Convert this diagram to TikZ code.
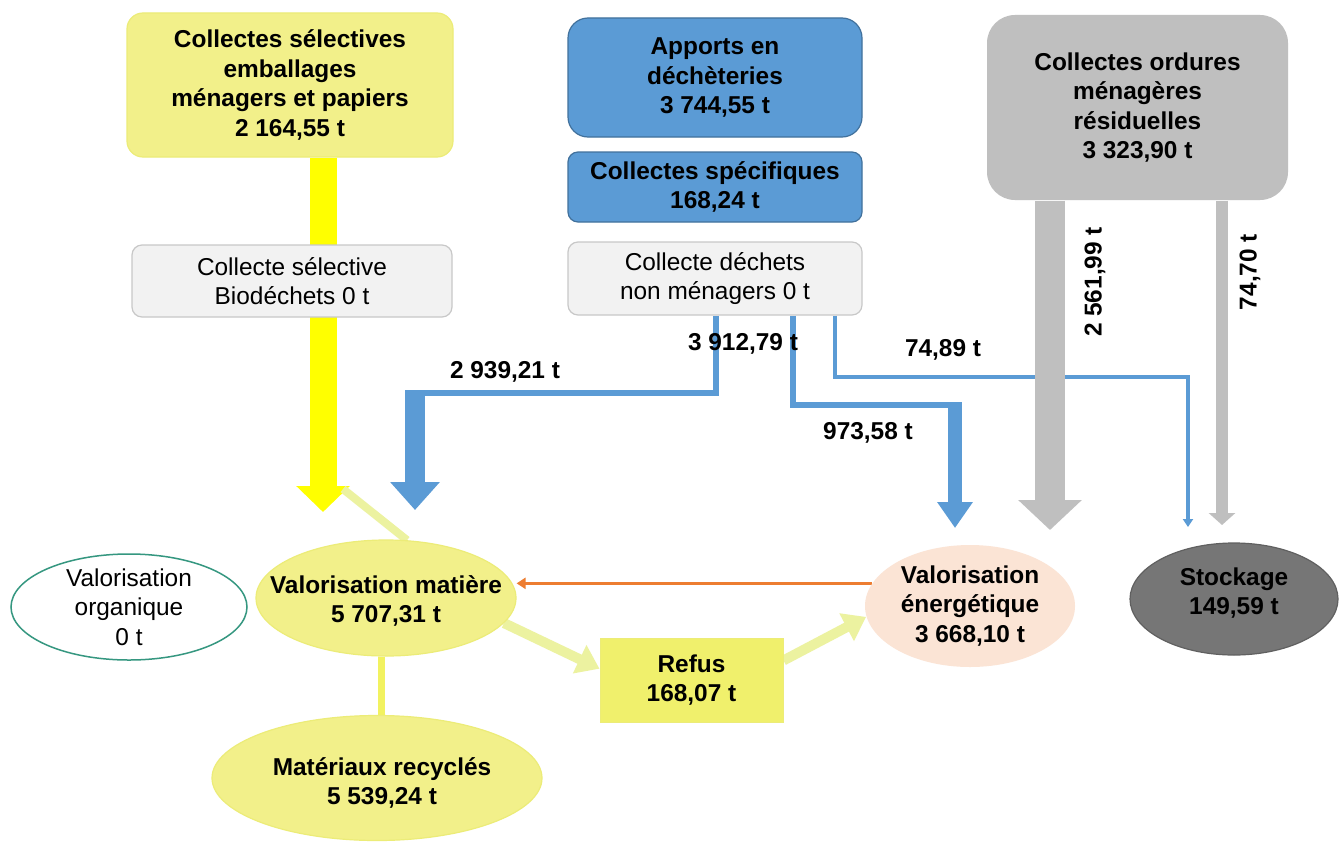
\documentclass[tikz,border=0pt]{standalone}
\usepackage{fontspec}
\setmainfont{Liberation Sans}
\usetikzlibrary{arrows.meta,shapes.geometric}

\definecolor{jaune}{RGB}{242,240,138}
\definecolor{jaunebord}{RGB}{236,236,120}
\definecolor{jaunevif}{RGB}{255,255,0}
\definecolor{jaunetrait}{RGB}{242,242,96}
\definecolor{jaunepale}{RGB}{236,242,160}
\definecolor{jaunerefus}{RGB}{240,240,108}
\definecolor{bleu}{RGB}{91,155,213}
\definecolor{bleubord}{RGB}{65,113,156}
\definecolor{gris}{RGB}{191,191,191}
\definecolor{grisclair}{RGB}{242,242,242}
\definecolor{grisbord}{RGB}{200,200,200}
\definecolor{grisfonce}{RGB}{118,118,118}
\definecolor{grisfoncebord}{RGB}{96,96,96}
\definecolor{peche}{RGB}{251,228,213}
\definecolor{orangefl}{RGB}{237,125,49}
\definecolor{vertbord}{RGB}{53,151,128}

\pgfdeclarelayer{fond}
\pgfsetlayers{fond,main}

\tikzset{
  texte/.style={align=center, inner sep=0pt, font=\fontsize{24.5}{29.5}\selectfont},
  gras/.style={texte, font=\fontsize{24.5}{29.5}\selectfont\bfseries},
  boite/.style={gras, rounded corners=16bp, line width=1.2bp},
  boitegrise/.style={texte, rounded corners=10bp, fill=grisclair, draw=grisbord,
    line width=1.2bp, minimum width=294bp, minimum height=73bp},
  ellip/.style={ellipse, inner sep=0pt, line width=1.2bp},
  fluxbleu/.style={draw=bleu, line join=miter},
}

\begin{document}
\begin{tikzpicture}[x=1bp, y=-1bp]
  \useasboundingbox (0,0) rectangle (1341,841);

  % collectes
  \node[boite, fill=jaune, draw=jaunebord, minimum width=326bp, minimum height=144bp] (selec) at (290,85)
    {Collectes sélectives\\emballages\\ménagers et papiers\\2 164,55 t};
  \node[boite, fill=bleu, draw=bleubord, minimum width=294bp, minimum height=119bp, rounded corners=20bp] (apports) at (715,77.5)
    {Apports en\\déchèteries\\3 744,55 t};
  \node[boite, fill=bleu, draw=bleubord, minimum width=294bp, minimum height=70bp, rounded corners=10bp] (specif) at (715,187)
    {Collectes spécifiques\\168,24 t};
  \node[boitegrise] (dnm) at (715,278.5) {Collecte déchets\\non ménagers 0 t};
  \node[boitegrise, minimum width=320bp, minimum height=72bp] (bio) at (292,281) {Collecte sélective\\Biodéchets 0 t};
  \node[boite, fill=gris, minimum width=301bp, minimum height=185bp, rounded corners=28bp] (omr) at (1137.5,107.5)
    {Collectes ordures\\ménagères\\résiduelles\\3 323,90 t};

  % destinations
  \node[ellip, fill=white, draw=vertbord, line width=1.5bp, minimum width=236bp, minimum height=106bp] (vorg) at (129,607) {};
  \node[texte] (vorgt) at (vorg) {Valorisation\\organique\\0 t};
  \node[ellip, fill=jaune, draw=jaunebord, minimum width=260bp, minimum height=116bp] (vmat) at (386,598) {};
  \node[gras] (vmatt) at (386,601) {Valorisation matière\\5 707,31 t};
  \node[ellip, fill=jaune, draw=jaunebord, minimum width=330bp, minimum height=125bp] (recy) at (377,778) {};
  \node[gras] (recyt) at (382,783) {Matériaux recyclés\\5 539,24 t};
  \node[gras, fill=jaunerefus, draw=jaunebord, line width=1bp, minimum width=183bp, minimum height=84bp] (refus) at (691.5,680)
    {Refus\\168,07 t};
  \node[ellip, fill=peche, minimum width=210bp, minimum height=122bp] (ven) at (970,606) {};
  \node[gras] (vent) at (ven) {Valorisation\\énergétique\\3 668,10 t};
  \node[ellip, fill=grisfonce, draw=grisfoncebord, minimum width=208bp, minimum height=112bp] (stock) at (1234,599) {};
  \node[gras] (stockt) at (1234,593) {Stockage\\149,59 t};

  % tonnages
  \node[gras] (l1) at (505,372) {2 939,21 t};
  \node[gras] (l2) at (743,344) {3 912,79 t};
  \node[gras] (l3) at (868,433) {973,58 t};
  \node[gras] (l4) at (943,350) {74,89 t};
  \node[gras, rotate=90] (l5) at (1095,282) {2 561,99 t};
  \node[gras, rotate=90] (l6) at (1250,272) {74,70 t};

  \coordinate (pj) at (323,512);
  \coordinate (dj) at (343,489);
  \coordinate (lj) at (381,0);
  \coordinate (b1) at (716,393);
  \coordinate (pb1) at (415,510);
  \coordinate (b2) at (793,405);
  \coordinate (pb2) at (955,528);
  \coordinate (b3) at (835,377);
  \coordinate (pb3) at (1188,527);
  \coordinate (pg1) at (1050,530);
  \coordinate (pg2) at (1222,525);

  \begin{pgfonlayer}{fond}
    \fill[white] (0,0) rectangle (1341,841);
    % flux jaunes
    \draw[jaunevif, line width=27bp, -{Triangle[width=52bp,length=26bp]}] (selec.south -| pj) -- (pj);
    \draw[jaunepale, line width=8bp] (dj) -- (vmat.70);
    \draw[jaunetrait, line width=7bp] (vmat.south -| lj) -- (recy.north -| lj);
    \draw[jaunepale, line width=10bp, -{Triangle[width=30bp,length=22bp]}] (vmat.-12) -- (refus.173);
    \draw[jaunepale, line width=10bp, -{Triangle[width=30bp,length=22bp]}] (refus.12) -- (ven.186);
    \draw[orangefl, line width=3bp, -{Triangle[width=11bp,length=9bp]}] (ven.167) -- (ven.167 -| vmat.east);
    % flux bleus
    \draw[fluxbleu, line width=6bp] (dnm.south -| b1) |- (pb1 |- b1);
    \draw[bleu, line width=20bp, -{Triangle[width=48bp,length=28bp]}] ([yshift=3bp]pb1 |- b1) -- (pb1);
    \draw[fluxbleu, line width=6bp] (dnm.south -| b2) |- (pb2 |- b2);
    \draw[bleu, line width=14bp, -{Triangle[width=34bp,length=26bp]}] ([yshift=3bp]pb2 |- b2) -- (pb2);
    \draw[fluxbleu, line width=4bp, -{Triangle[width=10bp,length=8bp]}] (dnm.south -| b3) |- (pb3 |- b3) -- (pb3);
    % flux gris
    \draw[gris, line width=30bp, -{Triangle[width=62bp,length=30bp]}] (omr.south -| pg1) -- (pg1);
    \draw[gris, line width=12bp, -{Triangle[width=26bp,length=12bp]}] (omr.south -| pg2) -- (pg2);
  \end{pgfonlayer}
\end{tikzpicture}
\end{document}
